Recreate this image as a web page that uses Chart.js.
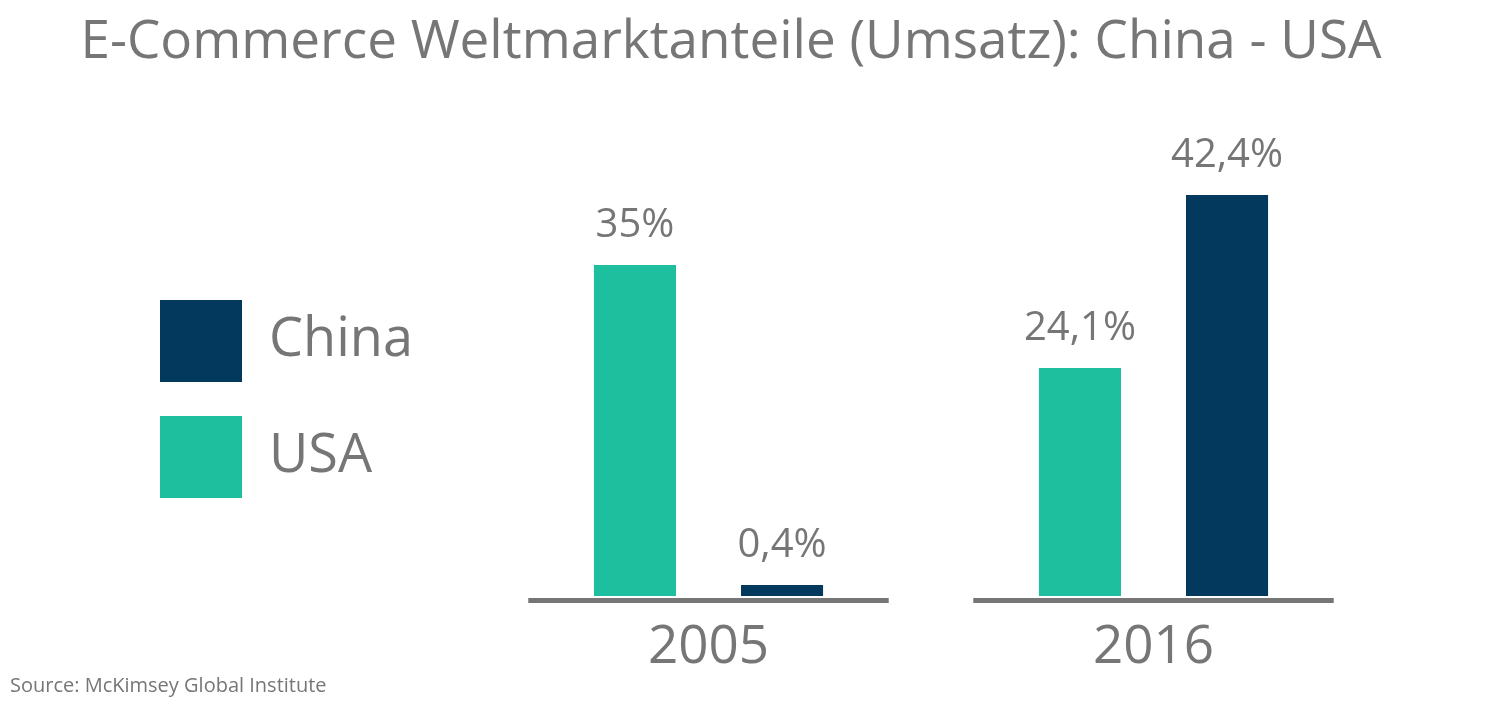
<!DOCTYPE html>
<html>
<head>
<meta charset="utf-8">
<script src="https://cdn.jsdelivr.net/npm/chart.js@4.4.1/dist/chart.umd.min.js"></script>
<style>
  html, body { margin: 0; padding: 0; background: #ffffff; }
  #wrap { width: 1500px; height: 709px; }
</style>
</head>
<body>
<div id="wrap"><canvas id="c" width="1500" height="709"></canvas></div>
<script>
const categories = ['2005', '2016'];
const seriesNames = ['USA', 'China'];
const usaValues = [35, 24.1];
const chinaValues = [0.4, 42.4];
const titleText = 'E-Commerce Weltmarktanteile (Umsatz): China - USA';
const sourceText = 'Source: McKimsey Global Institute';

const GRAY = '#767676';
const TEAL = '#1dbf9f';
const NAVY = '#04395e';
const FONT = "'Open Sans', 'Noto Sans', sans-serif";

function fmt(v) { return String(v).replace('.', ',') + '%'; }

// value labels above each bar, positioned from the bar elements
const valueLabels = {
  id: 'valueLabels',
  afterDatasetsDraw(chart) {
    const ctx = chart.ctx;
    ctx.save();
    ctx.font = '40px ' + FONT;
    ctx.fillStyle = GRAY;
    ctx.textAlign = 'center';
    ctx.textBaseline = 'alphabetic';
    chart.data.datasets.forEach((ds, di) => {
      const meta = chart.getDatasetMeta(di);
      meta.data.forEach((el, i) => {
        ctx.fillText(fmt(ds.data[i]), el.x, el.y - 28);
      });
    });
    ctx.restore();
  }
};

// separate baseline segment under each category group
const axisSegments = {
  id: 'axisSegments',
  afterDatasetsDraw(chart) {
    const xs = chart.scales.x, ys = chart.scales.y;
    const ctx = chart.ctx;
    const catW = (xs.right - xs.left) / categories.length;
    const half = catW * 0.81 / 2;
    const y = ys.getPixelForValue(0) + 4.5;
    ctx.save();
    ctx.strokeStyle = GRAY;
    ctx.lineWidth = 5;
    categories.forEach((c, i) => {
      const cx = xs.getPixelForValue(i);
      ctx.beginPath();
      ctx.moveTo(cx - half, y);
      ctx.lineTo(cx + half, y);
      ctx.stroke();
    });
    ctx.restore();
  }
};

const hidden = {
  display: false,
  grid: { display: false, drawTicks: false },
  border: { display: false },
  ticks: { display: false }
};

new Chart(document.getElementById('c'), {
  type: 'bar',
  data: {
    labels: categories,
    datasets: [
      { label: seriesNames[0], data: usaValues, backgroundColor: TEAL, borderWidth: 0 },
      { label: seriesNames[1], data: chinaValues, backgroundColor: NAVY, borderWidth: 0, minBarLength: 11 }
    ]
  },
  options: {
    responsive: false,
    animation: false,
    devicePixelRatio: 1,
    categoryPercentage: 0.661,
    barPercentage: 0.558,
    layout: { padding: { left: 10, right: 48, top: 0, bottom: 0 } },
    scales: {
      x: {
        grid: { display: false, drawTicks: false },
        border: { display: false },
        ticks: { color: GRAY, padding: 0, font: { family: FONT, size: 53, lineHeight: 0.974 } }
      },
      y: Object.assign({
        min: -2.8, max: 50, position: 'left', weight: 2000,
        afterFit: s => { s.width = 116; }
      }, hidden),
      ySpacer: Object.assign({
        type: 'linear', position: 'left', weight: 0,
        afterFit: s => { s.width = Math.max(0, 486 - 10 - 116 - (s.chart.legend ? s.chart.legend.width : 0)); }
      }, hidden),
      yRight: Object.assign({
        type: 'linear', position: 'right', weight: 0,
        afterFit: s => { s.width = 76; }
      }, hidden)
    },
    plugins: {
      tooltip: { enabled: false },
      title: {
        display: true,
        text: titleText,
        color: GRAY,
        align: 'center',
        font: { family: FONT, size: 53, weight: 'normal', lineHeight: 1.2 },
        padding: { top: 11, bottom: 48.4 }
      },
      subtitle: {
        display: true,
        position: 'bottom',
        align: 'start',
        text: sourceText,
        color: GRAY,
        font: { family: FONT, size: 20, weight: 'normal', lineHeight: 1.2 },
        padding: { top: 0, bottom: 10.8 }
      },
      legend: {
        display: true,
        position: 'left',
        align: 'center',
        reverse: true,
        title: { display: true, text: '', font: { size: 12, lineHeight: 1 }, padding: { top: 77, bottom: 0 } },
        labels: {
          boxWidth: 82,
          boxHeight: 82,
          padding: 34,
          color: GRAY,
          font: { family: FONT, size: 54 }
        }
      }
    }
  },
  plugins: [valueLabels, axisSegments]
});
</script>
</body>
</html>
